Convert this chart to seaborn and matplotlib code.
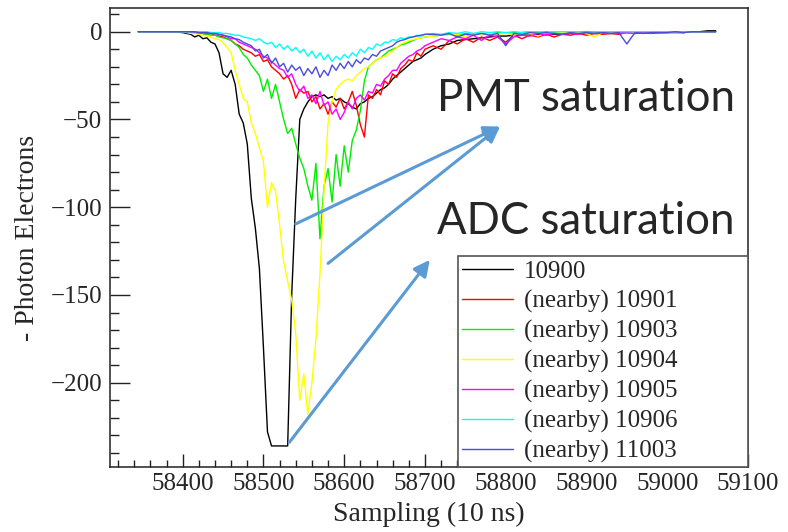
import numpy as np
import pandas as pd
import matplotlib
matplotlib.use("Agg")
import matplotlib.pyplot as plt
import seaborn as sns
from matplotlib.ticker import MultipleLocator, ScalarFormatter

sns.set_style("ticks")
plt.rcParams["font.family"] = ["Liberation Serif", "DejaVu Serif"]
plt.rcParams["axes.unicode_minus"] = True

# ---------------- data ----------------
# sampling positions (10 ns units)
x_head = [58345, 58360, 58380, 58395]
x_mid = list(range(58400, 58701, 5))     # 61 samples
x_tail = list(range(58710, 59061, 10))   # 36 samples
sampling = x_head + x_mid + x_tail

channels = ["10900", "(nearby) 10901", "(nearby) 10903", "(nearby) 10904",
            "(nearby) 10905", "(nearby) 10906", "(nearby) 11003"]
colors = ["#000000", "#ff0000", "#00ee00", "#ffff00", "#ff00ff", "#00ffff", "#4b4bdc"]

pe_10900 = ([0, 0, 0, -0.3] +
            [-0.5, -1, -1.5, -3, -2, -4, -3.5, -6, -7, -12,
             -24, -26, -22, -30, -47, -52, -64, -95, -112, -135,
             -180, -228, -236, -236, -236, -236, -236, -150, -95, -50,
             -44, -40, -37, -36, -37, -36, -38, -37, -39, -38,
             -40, -41, -43, -44, -41, -40, -38, -37, -35, -33,
             -32, -30, -27, -25, -23, -21, -19, -17, -16, -15,
             -13] +
            [-10, -8, -7, -5, -4.5, -4, -3.5, -3, -2.5, -2.5,
             -2, -2, -2, -1.5, -1.5, -1.5, -1.5, -1, -1, -1,
             -1, -1, -1, -1, -0.5, -1, -0.5, -0.5, -0.5, -0.5,
             -0.5, -0.5, 0, 0, 0.5, 0.5])

pe_10901 = ([0, 0, 0, 0] +
            [0, 0, -0.5, -0.5, -1, -1, -1.5, -1, -2, -2.5,
             -3, -4, -5, -7, -8, -10, -11, -12, -14, -13,
             -17, -16, -20, -22, -24, -27, -25, -30, -38, -33,
             -35, -34, -40, -37, -44, -41, -47, -40, -43, -38,
             -44, -40, -34, -42, -53, -60, -36, -38, -33, -36,
             -28, -30, -24, -26, -21, -19, -16, -17, -12, -14,
             -10] +
            [-8, -10, -5, -7, -4, -6, -3, -5, -3, -6,
             -2, -4, -2, -3, -1.5, -3, -1.5, -2, -1, -2,
             -1, -1.5, -1, -1.5, -0.5, -1, -0.5, -1, -0.5, -0.5,
             0, -0.5, 0, 0, 0, 0])

pe_10903 = ([0, 0, 0, 0] +
            [0, 0, -0.5, -0.5, -1, -1, -1.5, -2, -2, -3,
             -3.5, -4, -5, -7, -9, -13, -15, -19, -22, -25,
             -34, -27, -38, -30, -40, -50, -58, -55, -64, -72,
             -78, -88, -96, -75, -118, -88, -78, -97, -70, -88,
             -65, -80, -62, -56, -45, -28, -20, -18, -16, -15,
             -13, -11, -10, -9, -7.5, -7, -6, -5, -4, -3.5,
             -3] +
            [-2.5, -2, -1.5, -2, -1, -1.5, -1, -1, -0.5, -1,
             -0.5, -0.5, 0, -0.5, 0, -0.5, 0, 0, 0, 0,
             0, -0.5, 0, 0, 0, 0, 0, -0.5, 0, 0,
             0, 0, 0, 0, 0, 0])

pe_10904 = ([0, 0, 0, 0] +
            [0, -0.5, -1, -1, -1.5, -2, -2.5, -3, -4, -4.5,
             -6, -9, -12, -22, -30, -38, -40, -52, -58, -66,
             -74, -100, -86, -91, -110, -131, -142, -153, -172, -210,
             -195, -218, -200, -175, -138, -90, -52, -40, -33, -30,
             -28, -27, -28, -25, -23, -21, -20, -18, -16, -15,
             -14, -13, -11, -9, -7, -6, -5, -4.5, -4, -3.5,
             -3] +
            [-2.5, -2, -2, -1.5, -3, -1, -2, -1, -1.5, -1,
             -2, -0.5, -1, -2.5, -0.5, -1, -0.5, -1, -0.5, -1,
             -3, -0.5, -1, -0.5, -0.5, -0.5, 0, -0.5, 0, -0.5,
             0, 0, 0, 0, 0, 0])

pe_10905 = ([0, 0, 0, 0] +
            [0, 0, 0, -0.5, -0.5, -0.5, -1, -1, -1, -1.5,
             -2, -3, -4, -4, -6, -7, -8, -9, -10, -12,
             -14, -15, -17, -19, -21, -22, -26, -24, -30, -34,
             -31, -38, -36, -41, -34, -42, -40, -47, -44, -50,
             -46, -40, -44, -38, -36, -39, -34, -35, -30, -31,
             -27, -25, -22, -22, -18, -16, -14, -13, -11, -10,
             -8] +
            [-6, -4, -5, -3, -4, -2, -5, -2, -3, -7,
             -3, -2, -2.5, -1, -2, -1, -1.5, -1, -1.5, -0.5,
             -1, -0.5, -1, -0.5, -0.5, 0, -0.5, 0, -0.5, 0,
             0, 0, 0, 0, 0, 0])

pe_10906 = ([0, 0, 0, 0] +
            [0, 0, 0, 0, 0, 0, 0, -0.5, -0.5, -0.5,
             -1, -1, -1.5, -2, -2, -3, -3.5, -4, -5, -4,
             -6, -7, -6, -9, -7, -10, -8, -11, -9, -12,
             -10, -14, -11, -15, -12, -16, -13, -17, -14, -16,
             -13, -15, -12, -14, -10, -12, -9, -10, -7, -8,
             -6, -6, -4.5, -5, -3.5, -4, -3, -3, -2, -2.5,
             -1.5] +
            [-1, -1.5, -0.5, -1, 0, -1, 0, -0.5, 0, -0.5,
             0, -0.5, 0, 0, -0.5, 0, 0, 0, 0, -0.5,
             0, 0, 0, 0, 0, 0, 0, 0, 0, 0,
             0, 0, 0, 0, 0, 0])

pe_11003 = ([0, 0, 0, 0] +
            [0, 0, 0, 0, -0.5, -0.5, -0.5, -1, -1, -1.5,
             -2, -2.5, -3, -4, -4.5, -6, -7, -8, -11, -10,
             -15, -13, -18, -15, -20, -18, -23, -19, -22, -20,
             -25, -21, -24, -20, -26, -22, -25, -19, -22, -18,
             -21, -17, -20, -16, -18, -15, -16, -13, -14, -11,
             -10, -9, -8, -6, -5, -4.5, -3.5, -3, -2.5, -2,
             -1.5] +
            [-1.5, -2, -1, -3, -1.5, -2, -1, -2, -1, -8,
             -1, -1.5, -0.5, -1, -0.5, -1, -1.5, -0.5, -1, -0.5,
             -1, -0.5, -1, -0.5, -7, -0.5, -1, -0.5, -0.5, -0.5,
             0, -0.5, 0, 0, 0, 0])

series = [pe_10900, pe_10901, pe_10903, pe_10904, pe_10905, pe_10906, pe_11003]

df = pd.concat([pd.DataFrame({"sampling": sampling, "pe": vals, "channel": name})
                for name, vals in zip(channels, series)], ignore_index=True)

# ---------------- figure ----------------
fig = plt.figure(figsize=(7.88, 5.32), dpi=100)
ax = fig.add_axes([110 / 788, 65 / 532, 638 / 788, 459 / 532])

sns.lineplot(data=df, x="sampling", y="pe", hue="channel", hue_order=channels,
             palette=colors, estimator=None, sort=False, lw=1.0, ax=ax)

ax.set_xlim(58310, 59100)
ax.set_ylim(-248, 13.5)

ax.xaxis.set_major_locator(MultipleLocator(100))
ax.xaxis.set_minor_locator(MultipleLocator(20))
ax.yaxis.set_major_locator(MultipleLocator(50))
ax.yaxis.set_minor_locator(MultipleLocator(10))
ax.xaxis.set_major_formatter(ScalarFormatter(useOffset=False))

ax.tick_params(which="both", direction="in", top=False, right=False, width=1, color="#222222")
ax.tick_params(axis="y", which="major", length=14.4, pad=5.5, labelsize=18)
ax.tick_params(axis="y", which="minor", length=6.5)
ax.tick_params(axis="x", which="major", length=9.4, pad=4, labelsize=18)
ax.tick_params(axis="x", which="minor", length=5)

for sp in ax.spines.values():
    sp.set_color("#222222")
    sp.set_linewidth(1.1)

ax.set_xlabel("Sampling (10 ns)", fontsize=20)
ax.set_ylabel("- Photon Electrons", fontsize=20)
ax.xaxis.set_label_coords(0.5, -0.075)
ax.yaxis.set_label_coords(-0.11, 0.5)

handles, labs = ax.get_legend_handles_labels()
leg = ax.legend(handles, labs, loc="lower left", bbox_to_anchor=(0.5455, 0.0, 0.4545, 0.45),
                mode="expand", borderaxespad=0, frameon=True, fancybox=False,
                edgecolor="#555555", framealpha=1, fontsize=18, handlelength=2.05,
                handletextpad=0.45, borderpad=0.15, labelspacing=0.28)
leg.get_frame().set_linewidth(1.2)
for h in leg.get_lines():
    h.set_linewidth(1.0)

arrow_color = "#5b9bd5"
aprops = dict(arrowstyle="-|>", color=arrow_color, lw=2.2, mutation_scale=24,
              shrinkA=0, shrinkB=0)
ax.annotate("", xy=(58793, -54), xytext=(58540, -109.5), arrowprops=aprops, zorder=6)
ax.annotate("", xy=(58793, -54), xytext=(58580, -132), arrowprops=aprops, zorder=6)
ax.annotate("", xy=(58706, -130), xytext=(58532, -234), arrowprops=aprops, zorder=6)

ax.text(58715, -45.2, "PMT saturation", fontsize=31.5, family=["Lato", "DejaVu Sans"],
        ha="left", va="baseline")
ax.text(58715, -115.1, "ADC saturation", fontsize=31.5, family=["Lato", "DejaVu Sans"],
        ha="left", va="baseline")

fig.savefig("out.png", dpi=100)
